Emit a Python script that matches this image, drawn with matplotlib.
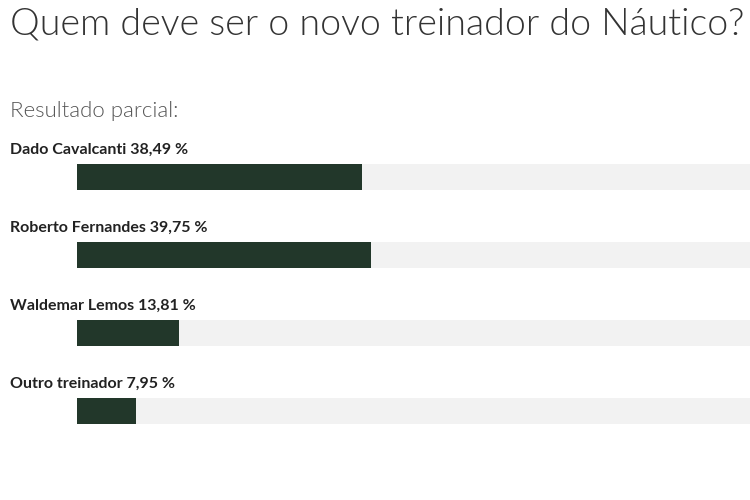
import matplotlib
matplotlib.use("Agg")
import matplotlib.pyplot as plt
import matplotlib.font_manager as fm
from matplotlib.transforms import blended_transform_factory

names = ["Dado Cavalcanti", "Roberto Fernandes", "Waldemar Lemos", "Outro treinador"]
pcts = [38.49, 39.75, 13.81, 7.95]
pct_labels = ["38,49 %", "39,75 %", "13,81 %", "7,95 %"]

# pick Lato Light by file name (weight lookup lands on Hairline otherwise)
light_path = [f.fname for f in fm.fontManager.ttflist if f.fname.endswith("Lato-Light.ttf")]
if light_path:
    light = dict(fontproperties=fm.FontProperties(fname=light_path[0]))
else:
    light = dict(family="Lato", fontweight="normal")

W, H = 750, 500
fig = plt.figure(figsize=(7.5, 5), dpi=100)
fig.patch.set_facecolor("white")

# axes starts where the bar tracks start; track runs off the right edge
x0 = 77 / W
ax = fig.add_axes([x0, 0, 1 - x0, 1])
ax.set_xlim(0, (W - 77) / 740 * 100)
step = 78.0
ax.set_ylim((H - 177) / step, -177 / step)
ax.axis("off")

ypos = list(range(len(names)))
bh = 26 / step
ax.barh(ypos, [100] * len(ypos), height=bh, left=0, color="#f2f2f2", edgecolor="none")
ax.barh(ypos, pcts, height=bh, left=0, color="#22372a", edgecolor="none")

tr = blended_transform_factory(fig.transFigure, ax.transData)
for y, n, p in zip(ypos, names, pct_labels):
    ax.text(10 / W, y - 27 / step, f"{n} {p}", transform=tr, ha="left", va="center",
            fontsize=11.5, fontweight="bold", family="Lato", color="#222222")

t = fig.text(10 / W, 1 - 24 / H, "Quem deve ser o novo treinador do Náutico?", ha="left", va="center",
             color="#333333", **light)
t.set_fontsize(27)
s = fig.text(10 / W, 1 - 111 / H, "Resultado parcial:", ha="left", va="center",
             color="#555555", **light)
s.set_fontsize(16)

fig.savefig("out.png", dpi=100, facecolor="white")
